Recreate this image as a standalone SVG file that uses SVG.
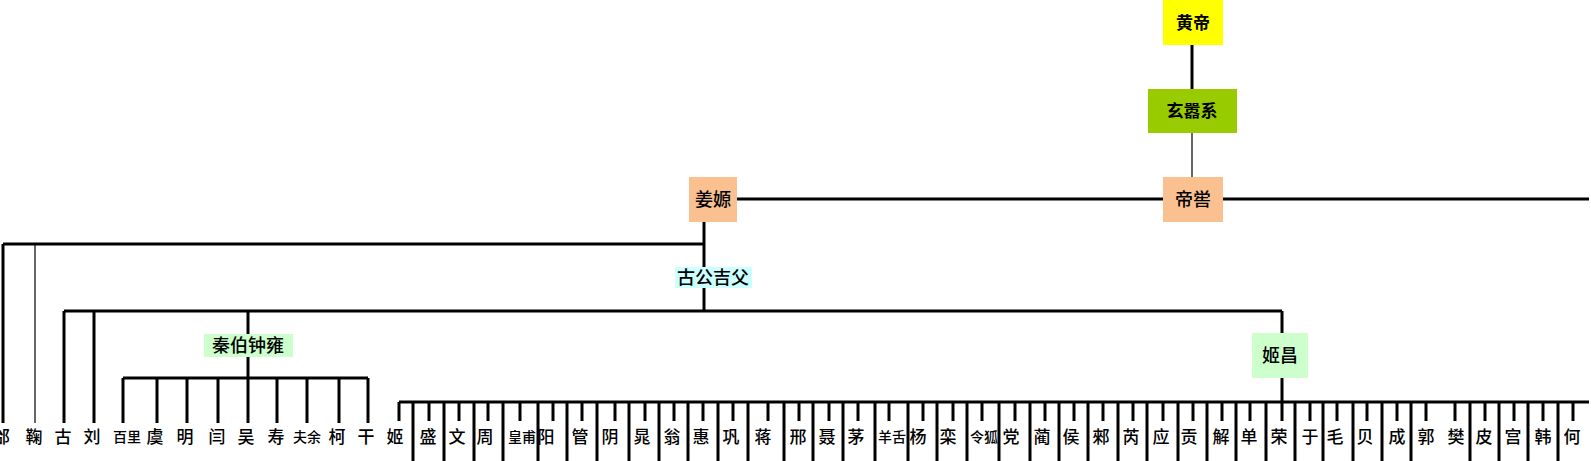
<svg xmlns="http://www.w3.org/2000/svg" width="1591" height="461" viewBox="0 0 1591 461">
<style>
text{font-family:"Noto Sans CJK SC","Noto Sans CJK TC",sans-serif;fill:#000;text-anchor:middle}
.t{font-size:18px;font-weight:500}
.tb{font-size:17px;font-weight:bold}
.l{font-size:17px;font-weight:500}
.s{font-size:14px;font-weight:500}
.k{stroke:#000;stroke-width:3;fill:none}
.n{stroke:#000;stroke-width:1.2;fill:none}
</style>
<rect width="1591" height="461" fill="#fff"/>
<g id="connectors">
<path class="k" d="M1192 45V89"/>
<path class="n" d="M1192 133V177"/>
<path class="k" d="M737 199H1163M1223 199H1589"/>
<path class="k" d="M704 222V311"/>
<path class="k" d="M3 244H704M3 244V423"/>
<path class="n" d="M35 244V423"/>
<path class="k" d="M64 311H1282M64 311V423M94 311V423M248 311V423M1282 311V333M1282 378V421"/>
<path class="k" d="M123 378H368M123 378V423M157 378V423M187 378V423M218 378V423M277 378V423M307 378V423M339 378V423M368 378V423"/>
<path class="k" d="M399 402H1589"/>
<path class="k" d="M399 402V421M429 402V421M459 402V421M488 402V421M520 402V421M553 402V421M582 402V421M615 402V421M645 402V421M674 402V421M703 402V421M733 402V421M768 402V421M799 402V421M829 402V421M858 402V421M889 402V421M923 402V421M953 402V421M982 402V421M1015 402V421M1045 402V421M1074 402V421M1103 402V421M1133 402V421M1163 402V421M1193 402V421M1222 402V421M1250 402V421M1310 402V421M1337 402V421M1367 402V421M1397 402V421M1426 402V421M1455 402V421M1485 402V421M1514 402V421M1543 402V421M1573 402V421"/>
<path class="k" d="M413 402V461M444 402V461M474 402V461M503 402V461M538 402V461M567 402V461M597 402V461M629 402V461M659 402V461M688 402V461M718 402V461M748 402V461M784 402V461M813 402V461M843 402V461M875 402V461M908 402V461M937 402V461M967 402V461M999 402V461M1030 402V461M1059 402V461M1088 402V461M1118 402V461M1147 402V461M1178 402V461M1207 402V461M1236 402V461M1266 402V461M1295 402V461M1323 402V461M1353 402V461M1382 402V461M1411 402V461M1470 402V461M1499 402V461M1528 402V461M1558 402V461"/>
</g>
<g id="huangdi"><rect x="1163" y="0" width="60" height="45" fill="#ffff00"/><text class="tb" x="1193" y="29">黄帝</text></g>
<g id="xuanxiao"><rect x="1148" y="89" width="89" height="44" fill="#99cc00"/><text class="tb" x="1192" y="117">玄嚣系</text></g>
<g id="diku"><rect x="1163" y="177" width="60" height="45" fill="#fac090"/><text class="t" x="1193" y="206">帝喾</text></g>
<g id="jiangyuan"><rect x="689" y="177" width="48" height="45" fill="#fac090"/><text class="t" x="713" y="206">姜嫄</text></g>
<g id="gugongjifu"><rect x="675" y="267" width="77" height="21" fill="#ccffff"/><text class="t" x="713" y="284">古公吉父</text></g>
<g id="qinbo"><rect x="204" y="334" width="89" height="23" fill="#ccffcc"/><text class="t" x="248" y="352">秦伯钟雍</text></g>
<g id="jichang"><rect x="1252" y="333" width="56" height="45" fill="#ccffcc"/><text class="t" x="1280" y="362">姬昌</text></g>
<g id="surnames">
<g id="s-tai"><text class="l" x="1.5" y="443">邰</text></g>
<g id="s-ju"><text class="l" x="34" y="443">鞠</text></g>
<g id="s-gu"><text class="l" x="63" y="443">古</text></g>
<g id="s-liu"><text class="l" x="92" y="443">刘</text></g>
<g id="s-baili"><text class="s" x="127" y="442">百里</text></g>
<g id="s-yu"><text class="l" x="155" y="443">虞</text></g>
<g id="s-ming"><text class="l" x="185" y="443">明</text></g>
<g id="s-yan"><text class="l" x="217" y="443">闫</text></g>
<g id="s-wu"><text class="l" x="246" y="443">吴</text></g>
<g id="s-shou"><text class="l" x="276" y="443">寿</text></g>
<g id="s-fuyu"><text class="s" x="307" y="442">夫余</text></g>
<g id="s-ke"><text class="l" x="337" y="443">柯</text></g>
<g id="s-gan"><text class="l" x="366" y="443">干</text></g>
<g id="s-ji"><text class="l" x="395" y="443">姬</text></g>
<g id="s-sheng"><text class="l" x="428" y="443">盛</text></g>
<g id="s-wen"><text class="l" x="457" y="443">文</text></g>
<g id="s-zhou"><text class="l" x="485" y="443">周</text></g>
<g id="s-huangfu"><text class="s" x="522" y="442">皇甫</text></g>
<g id="s-yang"><text class="l" x="546" y="443">阳</text></g>
<g id="s-guan"><text class="l" x="580" y="443">管</text></g>
<g id="s-yin"><text class="l" x="610" y="443">阴</text></g>
<g id="s-chao"><text class="l" x="642" y="443">晁</text></g>
<g id="s-weng"><text class="l" x="672" y="443">翁</text></g>
<g id="s-hui"><text class="l" x="701" y="443">惠</text></g>
<g id="s-gong"><text class="l" x="731" y="443">巩</text></g>
<g id="s-jiang"><text class="l" x="763" y="443">蒋</text></g>
<g id="s-xing"><text class="l" x="798" y="443">邢</text></g>
<g id="s-nie"><text class="l" x="827" y="443">聂</text></g>
<g id="s-mao"><text class="l" x="856" y="443">茅</text></g>
<g id="s-yangshe"><text class="s" x="892" y="442">羊舌</text></g>
<g id="s-yang2"><text class="l" x="918" y="443">杨</text></g>
<g id="s-luan"><text class="l" x="948" y="443">栾</text></g>
<g id="s-linghu"><text class="s" x="984" y="442">令狐</text></g>
<g id="s-dang"><text class="l" x="1011" y="443">党</text></g>
<g id="s-lin"><text class="l" x="1042" y="443">蔺</text></g>
<g id="s-hou"><text class="l" x="1071" y="443">侯</text></g>
<g id="s-lai"><text class="l" x="1101" y="443">郲</text></g>
<g id="s-rui"><text class="l" x="1131" y="443">芮</text></g>
<g id="s-ying"><text class="l" x="1161" y="443">应</text></g>
<g id="s-gong2"><text class="l" x="1189" y="443">贡</text></g>
<g id="s-xie"><text class="l" x="1221" y="443">解</text></g>
<g id="s-shan"><text class="l" x="1249" y="443">单</text></g>
<g id="s-rong"><text class="l" x="1279" y="443">荣</text></g>
<g id="s-yu2"><text class="l" x="1310" y="443">于</text></g>
<g id="s-mao2"><text class="l" x="1335" y="443">毛</text></g>
<g id="s-bei"><text class="l" x="1365" y="443">贝</text></g>
<g id="s-cheng"><text class="l" x="1397" y="443">成</text></g>
<g id="s-guo"><text class="l" x="1426" y="443">郭</text></g>
<g id="s-fan"><text class="l" x="1456" y="443">樊</text></g>
<g id="s-pi"><text class="l" x="1484" y="443">皮</text></g>
<g id="s-gong3"><text class="l" x="1513" y="443">宫</text></g>
<g id="s-han"><text class="l" x="1543" y="443">韩</text></g>
<g id="s-he"><text class="l" x="1572" y="443">何</text></g>
</g>
</svg>
